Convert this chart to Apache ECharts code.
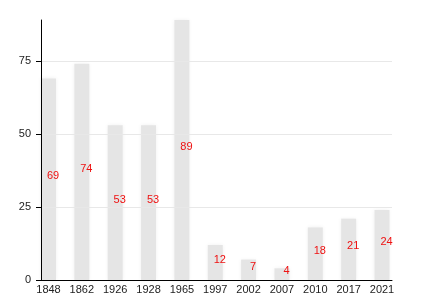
<!DOCTYPE html>
<html>
<head>
<meta charset="utf-8">
<script src="https://cdn.jsdelivr.net/npm/echarts@6/dist/echarts.min.js"></script>
<style>html,body{margin:0;padding:0;background:#fff}#c{width:430px;height:300px}</style>
</head>
<body>
<div id="c"></div>
<script>
const categories = ['1848','1862','1926','1928','1965','1997','2002','2007','2010','2017','2021'];
const values = [69, 74, 53, 53, 89, 12, 7, 4, 18, 21, 24];
const yTicks = [0, 25, 50, 75];

const chart = echarts.init(document.getElementById('c'), null, {renderer: 'canvas'});
const font = 'Liberation Sans, Arial, sans-serif';
chart.setOption({
  animation: false,
  grid: {left: 41, right: 38, top: 20, bottom: 20, containLabel: false},
  xAxis: {
    type: 'value',
    min: -0.225,
    max: 10.3,
    z: 5,
    axisLine: {show: true, onZero: false, lineStyle: {color: '#000', width: 1}},
    axisTick: {show: false},
    splitLine: {show: false},
    axisLabel: {
      customValues: categories.map((c, i) => i),
      formatter: v => categories[Math.round(v)],
      color: '#222', fontSize: 11, fontFamily: font, margin: 4
    }
  },
  yAxis: {
    type: 'value',
    min: 0, max: 89, interval: 25,
    z: 5,
    axisLine: {show: true, onZero: false, lineStyle: {color: '#000', width: 1}},
    axisTick: {show: true, length: 5, lineStyle: {color: '#000', width: 1}, customValues: yTicks},
    axisLabel: {color: '#222', fontSize: 11, fontFamily: font, margin: 10, customValues: yTicks},
    splitLine: {show: true, lineStyle: {color: '#e8e8e8', width: 1}}
  },
  series: [{
    type: 'bar',
    data: values.map((v, i) => [i, v]),
    barWidth: 15,
    z: 2,
    itemStyle: {color: '#e5e5e5', shadowBlur: 4, shadowColor: 'rgba(0,0,0,0.06)'},
    label: {
      show: true, position: 'inside', offset: [4.5, -3],
      color: '#ee1111', fontSize: 11, fontFamily: font,
      formatter: p => p.value[1]
    }
  }]
});
</script>
</body>
</html>
